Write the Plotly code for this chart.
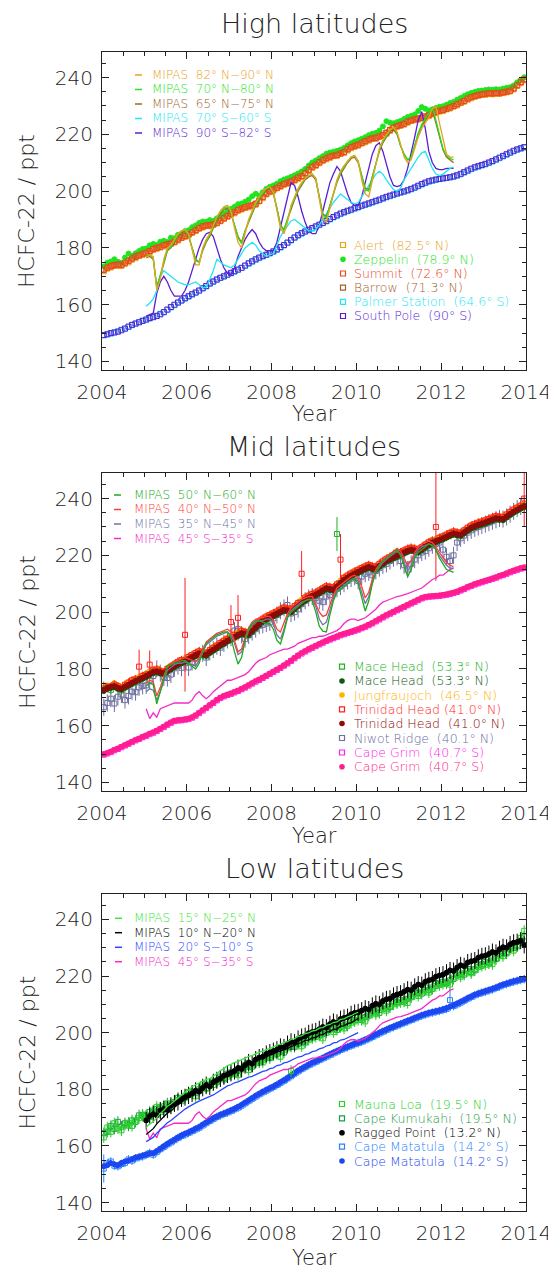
import plotly.graph_objects as go

# The page shows the figure with the browser's default 8 px body margin,
# so the figure is 8 px smaller than the 556x1272 window and every position
# below is given in window pixels and shifted by that margin.
PAGE_W, PAGE_H, BODY_MARGIN = 556, 1272, 8
W, H = PAGE_W - BODY_MARGIN, PAGE_H - BODY_MARGIN
FONT = "DejaVu Sans, sans-serif"
WEIGHT = 200
INK = "#222222"

# ---------------- time axes ----------------
MONTHS = [2004 + (i + 0.5) / 12 for i in range(120)]      # Jan 2004 .. Dec 2013
MIPAS_T = MONTHS[12:100]                                  # Jan 2005 .. Apr 2012
MIPAS_T_TROP = MONTHS[12:73]                              # Jan 2005 .. Jan 2010
RAGGED_T = MONTHS[12:120]                                 # Jan 2005 .. Dec 2013

# ================= HIGH LATITUDES =================
alert = [171.8,172.7,173.1,173.9,173.6,173.7,174.4,174.9,175.9,176.4,177.2,177.6,
         178.1,178.5,179.4,179.7,180.3,180.5,181.0,181.8,181.9,182.6,183.5,183.9,
         184.5,185.6,185.9,186.8,187.2,187.8,187.6,188.4,188.6,189.4,190.2,190.9,
         191.8,192.2,193.1,193.5,194.1,194.3,194.9,195.2,196.4,197.5,198.8,199.6,
         200.1,201.0,201.5,202.3,202.6,203.3,203.7,204.3,205.1,206.0,207.1,208.2,
         208.9,209.8,210.6,211.2,211.7,212.3,212.4,213.1,213.4,214.3,215.1,215.6,
         216.0,216.8,217.2,217.8,218.4,218.4,219.1,219.5,220.2,221.2,222.0,222.7,
         223.0,223.4,224.1,224.7,225.0,225.2,225.7,226.0,226.4,227.0,227.5,228.0,
         228.2,228.8,229.1,229.8,230.2,231.0,231.5,232.2,232.7,233.2,233.5,233.9,
         233.9,234.3,234.1,234.2,234.4,234.5,234.8,235.1,235.8,237.0,238.0,239.0]
zeppelin = [173.5,174.8,175.2,176.0,175.1,174.8,176.6,178.0,177.2,178.1,178.9,179.6,
            179.8,180.9,181.4,181.0,182.2,182.5,182.1,183.6,183.4,184.6,185.0,185.9,
            186.2,187.3,187.9,188.8,189.3,189.2,189.8,189.5,190.4,191.2,192.0,193.1,
            193.7,194.5,195.4,195.6,196.3,197.0,198.2,199.1,198.4,199.6,200.8,201.5,
            202.0,202.6,203.5,204.1,204.5,205.0,205.6,206.2,206.9,207.8,209.0,210.1,
            210.8,211.6,212.3,213.2,213.6,213.9,214.2,214.6,215.2,216.1,216.9,217.5,
            217.9,218.4,219.0,219.7,220.2,220.5,221.3,222.8,224.6,224.1,223.9,224.3,
            224.7,225.4,226.1,226.5,227.0,228.2,229.6,229.0,228.4,228.8,229.3,229.7,
            229.9,230.4,231.0,231.4,232.2,232.8,233.5,234.1,234.6,234.9,235.3,235.4,
            235.6,235.8,235.7,235.9,235.8,236.1,236.4,236.6,237.2,238.3,239.2,240.1]
summit = [172.4,173.1,173.6,174.0,174.2,174.0,174.8,175.5,176.3,177.0,177.4,177.9,
          178.3,178.9,179.6,180.1,180.4,181.0,181.3,181.6,182.2,183.0,183.6,184.2,
          184.8,185.5,186.3,187.0,187.6,187.9,188.0,188.3,188.9,189.6,190.5,191.3,
          192.0,192.6,193.4,193.9,194.3,194.8,195.0,195.6,196.6,198.0,199.2,200.0,
          200.6,201.2,201.9,202.5,203.0,203.4,204.0,204.8,205.3,206.4,207.5,208.6,
          209.3,210.2,211.0,211.6,212.2,212.5,212.8,213.3,213.8,214.8,215.5,216.0,
          216.4,217.0,217.6,218.2,218.6,218.8,219.3,219.8,220.6,221.6,222.4,222.9,
          223.3,223.8,224.5,224.9,225.3,225.6,225.8,226.3,226.8,227.4,227.9,228.3,
          228.6,229.0,229.5,230.0,230.6,231.2,231.8,232.6,233.1,233.5,233.9,234.1,
          234.3,234.5,234.4,234.6,234.5,234.8,235.0,235.4,236.2,237.3,238.4,239.4]
summit_err = 1.2
barrow = [172.2,172.9,173.4,173.7,174.0,173.9,174.5,175.3,176.0,176.8,177.2,177.7,
          178.2,178.8,179.4,179.9,180.2,180.8,181.1,181.5,182.1,182.9,183.5,184.1,
          184.7,185.4,186.1,186.9,187.4,187.7,187.9,188.2,188.8,189.5,190.3,191.1,
          191.9,192.5,193.2,193.8,194.2,194.6,194.9,195.5,196.5,197.8,199.0,199.8,
          200.5,201.1,201.8,202.4,202.9,203.3,203.9,204.6,205.2,206.2,207.4,208.4,
          209.2,210.0,210.9,211.5,212.0,212.4,212.7,213.2,213.7,214.6,215.4,215.9,
          216.3,216.9,217.5,218.1,218.5,218.7,219.2,219.7,220.5,221.5,222.3,222.8,
          223.2,223.7,224.4,224.8,225.2,225.5,225.7,226.2,226.7,227.3,227.8,228.2,
          228.5,228.9,229.4,229.9,230.5,231.1,231.7,232.5,233.0,233.4,233.8,234.0,
          234.2,234.4,234.3,234.5,234.4,234.7,234.9,235.3,236.1,237.2,238.3,239.3]
palmer = [149.2,149.5,149.8,150.3,150.6,151.2,151.5,152.1,152.8,153.2,153.9,154.4,
          154.6,155.1,155.7,156.2,156.8,157.3,158.1,159.0,159.8,160.6,161.4,162.1,
          162.8,163.5,164.2,164.9,165.7,166.4,167.3,168.0,168.7,169.4,169.9,170.5,
          171.0,171.6,172.2,172.9,173.6,174.4,175.1,175.8,176.4,177.0,177.5,178.0,
          178.6,179.3,180.1,180.9,181.7,182.6,183.5,184.3,185.0,185.7,186.2,186.8,
          187.4,188.0,188.7,189.3,190.0,190.7,191.3,191.9,192.4,192.9,193.3,193.8,
          194.2,194.7,195.1,195.5,196.0,196.4,196.8,197.3,197.8,198.2,198.6,199.0,
          199.4,199.8,200.2,200.6,201.1,201.7,202.3,202.8,203.3,203.6,203.9,204.2,
          204.4,204.6,204.8,205.0,205.4,205.9,206.5,207.1,207.7,208.2,208.6,209.0,
          209.4,209.9,210.4,211.0,211.6,212.2,212.8,213.4,214.0,214.5,214.9,215.3]
south_pole = [149.3,149.6,150.0,150.2,150.5,151.0,151.6,152.3,152.9,153.4,153.8,154.3,
              154.8,155.3,155.6,156.0,156.6,157.4,158.3,159.2,160.0,160.8,161.5,162.3,
              163.0,163.7,164.3,165.0,165.8,166.6,167.5,168.2,168.9,169.5,170.0,170.6,
              171.2,171.8,172.4,173.0,173.8,174.6,175.3,176.0,176.6,177.1,177.6,178.2,
              178.8,179.5,180.3,181.0,181.9,182.8,183.7,184.5,185.2,185.8,186.4,187.0,
              187.6,188.2,188.8,189.5,190.2,190.9,191.5,192.1,192.6,193.1,193.5,194.0,
              194.4,194.9,195.3,195.7,196.1,196.6,197.0,197.5,198.0,198.4,198.8,199.2,
              199.6,199.9,200.3,200.8,201.3,201.9,202.5,203.0,203.5,203.8,204.1,204.3,
              204.5,204.7,204.9,205.2,205.6,206.1,206.7,207.3,207.9,208.4,208.8,209.2,
              209.6,210.1,210.6,211.2,211.8,212.4,213.0,213.6,214.2,214.7,215.1,215.5]

mipas_82_90N = [176.5,177.5,177,165,169,176,180,181,183,185,186,186.5,
                185,179,174,174,180,183,185,188,191,193,194.5,195,
                193,187,182,180,185,190,193,196,198,200,201,201.5,
                199.5,193,187,185,189,195,198,201,203,204.5,205.5,206,
                204.5,197,190,189,194,200,204,207,209,210.5,212,212.5,
                210.5,204,199,198,204,210,215,218,220,221.5,222.5,221,
                216,212,210,211,215,219,222,224,226,229,230,224,
                218,213,212,212]
mipas_70_80N = [177,177.5,176.5,166,170.5,175.5,179.5,180.5,182.5,184.5,186,186.2,
                184.5,180,175.5,175,179.5,182.5,184.5,187.5,190.5,192.5,194,194.5,
                192.5,188,183.5,181.5,186,189.5,192.5,195.5,197.5,199.5,201,201.5,
                199.5,194,188,186,190,194.5,197.5,200.5,202.5,204.5,205.5,206,
                204.5,198,191.5,190.5,195,199.5,203.5,206.5,208.5,210.5,212,212.5,
                210.5,205,200.5,200,205,210.5,214.5,217.5,219.5,221.5,222.5,220.5,
                216,213,211,212,216,220.5,223.5,225.5,227.5,229.5,225,220,
                215,212.5,211.5,211]
mipas_65_75N = [176.5,177,176,166.5,170,175,179,180,182,184,185.5,185.8,
                184,180,176,175,179,182,184,187,190,192,193.5,194,
                192,188,184,182,186,189,192,195,197,199,200.5,201,
                199,194,188,186.5,190,194,197,200,202,204,205,205.5,
                204,198,192,191,195,199,203,206,208,210,211.5,212,
                210,205,201,200.6,205,210,214,217,219,221,221.7,220,
                216,213,211,212,216,220,223,225,227,228.7,224,219,
                214.6,212,211,210]
mipas_70_60S = [159.5,160.5,162,165,170,172,171,170,169,168,167.5,167,
                167,167.5,168,167,166,166,169,172,176,175,174,173.5,
                173,174,176,178,180,181,182,181,179,178,177,177.5,
                178,181,184,186,188,189.5,190,189,188,187,186,186,
                186.5,188,190,192,194,196,197.5,199,198,197,196,195.5,
                196,198,200,202,204,206,207,206,204,202,200.5,200,
                201,204,206,208,210,212,213.5,214,211,208,206,205.5,
                206,207,208,208.5]
mipas_90_82S = [156,156.5,157,164,168,170,168,165,163,163,163,165,
                168,172,176,180,183,185,185.5,184,180,176,173,171,
                170.6,173,177,180,183,185,186.5,185,182,180,179,179,
                179,182,187,193,198,203,202,198,193,189,186,185,
                185,188,193,198,203,206,208.7,207,203,199,196,195,
                195,198,203,208,213,216,217,214,209,205,202,201.6,
                202,204,208,213,219,225,228,222,214,210,208,207.6,
                207.6,208,208,208]

# ================= MID LATITUDES =================
mace_sq = [172.8,173.5,172.6,174.0,173.2,172.4,173.5,174.3,175.0,175.6,176.1,176.8,
           177.4,178.2,178.9,179.1,178.6,178.3,179.3,180.1,180.9,181.7,182.2,182.8,
           183.4,184.1,184.9,185.4,185.0,184.8,185.9,186.7,187.5,188.4,189.1,189.9,
           190.5,191.2,192.0,192.6,192.3,192.1,193.4,194.6,195.8,196.9,197.6,198.2,
           198.8,199.4,200.1,200.8,200.5,200.2,201.3,202.4,203.4,204.3,205.0,205.6,
           206.1,206.8,207.6,208.3,208.1,207.9,227.5,210.2,211.3,212.1,212.8,213.5,
           214.1,214.7,215.3,215.8,215.4,215.1,216.2,217.1,218.0,218.6,219.2,219.8,
           220.3,220.9,221.5,221.9,221.6,221.3,222.1,223.0,223.8,224.4,224.9,225.4,
           225.9,226.5,227.1,227.6,227.3,227.1,228.0,228.9,229.7,230.2,230.7,231.1,
           231.5,232.0,232.5,233.0,232.8,232.7,233.6,234.5,235.3,236.0,236.7,237.3]
mace_sq_err = 1.5
mace_sq_big_err = {66: 6.0}
mace_dot = [172.2,173.0,173.3,173.6,173.0,172.7,173.4,174.0,174.7,175.4,176.0,176.5,
            177.1,177.9,178.5,178.8,178.4,178.1,179.0,179.8,180.6,181.4,182.0,182.5,
            183.1,183.8,184.5,185.0,184.8,184.6,185.6,186.4,187.2,188.1,188.8,189.6,
            190.2,190.9,191.6,192.2,192.0,191.9,193.1,194.3,195.5,196.5,197.3,197.9,
            198.5,199.1,199.8,200.4,200.2,199.9,201.0,202.1,203.1,204.0,204.7,205.3,
            205.8,206.5,207.3,208.0,207.8,207.6,208.7,209.9,211.0,211.8,212.5,213.2,
            213.8,214.4,215.0,215.5,215.1,214.8,215.9,216.8,217.7,218.3,218.9,219.5,
            220.0,220.6,221.2,221.6,221.3,221.0,221.8,222.7,223.5,224.1,224.6,225.1,
            225.6,226.2,226.8,227.3,227.0,226.8,227.7,228.6,229.4,229.9,230.4,230.8,
            231.2,231.7,232.2,232.7,232.5,232.4,233.3,234.2,235.0,235.7,236.4,237.0]
jungfraujoch = [173.5,174.2,174.0,175.0,174.3,173.8,174.6,175.4,176.0,176.8,177.2,177.9,
                178.4,179.3,179.8,180.2,179.7,179.3,180.4,181.2,182.0,182.6,183.3,183.8,
                184.5,185.1,185.9,186.4,186.1,185.9,186.9,187.8,188.6,189.4,190.2,191.0,
                191.5,192.3,193.0,193.7,193.3,193.2,194.4,195.6,196.8,197.8,198.6,199.2,
                199.9,200.4,201.2,201.8,201.5,201.3,202.3,203.5,204.4,205.3,206.0,206.6,
                207.1,207.9,208.6,209.3,209.1,208.9,210.0,211.2,212.3,213.1,213.9,214.5,
                215.1,215.7,216.3,216.9,216.4,216.1,217.2,218.1,219.0,219.6,220.2,220.8,
                221.3,221.9,222.5,222.9,222.6,222.3,223.1,224.0,224.8,225.4,225.9,226.4,
                226.9,227.5,228.1,228.6,228.3,228.1,229.0,229.9,230.7,231.2,231.7,232.1,
                232.5,233.0,233.5,234.0,233.8,233.7,234.6,235.5,236.3,237.0,237.7,238.3]
trinidad_sq = [174.0,173.2,173.8,174.5,173.9,173.0,174.4,175.2,176.0,176.3,180.8,177.5,
               178.0,181.5,179.4,179.8,179.2,178.8,180.0,180.8,181.6,182.5,183.1,192.0,
               184.2,184.9,185.6,186.2,185.8,185.5,186.6,187.4,188.2,189.1,189.9,190.6,
               196.5,192.0,198.0,193.4,193.0,192.8,194.1,195.3,196.6,197.7,198.4,199.0,
               199.6,200.2,200.9,201.6,201.3,201.0,202.1,203.2,213.5,205.1,205.8,206.4,
               206.9,207.6,208.4,209.1,208.9,208.7,209.8,218.5,212.1,212.9,213.6,214.3,
               214.9,215.5,216.1,216.6,216.2,215.9,217.0,217.9,218.8,219.4,220.0,220.6,
               221.1,221.7,222.3,222.7,222.4,222.1,222.9,223.8,224.6,225.2,230.0,226.2,
               226.7,227.3,227.9,228.4,228.1,227.9,228.8,229.7,230.5,231.0,231.5,231.9,
               232.3,232.8,233.3,233.8,233.6,233.5,234.4,235.3,236.1,236.8,237.5,240.0]
trinidad_sq_err = 1.5
trinidad_sq_big_err = {10: 6.0, 13: 5.0, 23: 20.0, 36: 6.0, 38: 8.0, 56: 8.0, 67: 9.0, 94: 19.0, 119: 10.0}
trinidad_dot = [172.6,173.3,173.7,173.9,173.4,173.0,173.8,174.4,175.1,175.7,176.4,176.9,
                177.5,178.2,178.9,179.1,178.8,178.5,179.4,180.2,181.0,181.8,182.4,182.9,
                183.5,184.2,184.9,185.4,185.2,185.0,186.0,186.8,187.6,188.5,189.2,190.0,
                190.6,191.3,192.0,192.6,192.4,192.3,193.5,194.7,195.9,196.9,197.7,198.3,
                198.9,199.5,200.2,200.8,200.6,200.3,201.4,202.5,203.5,204.4,205.1,205.7,
                206.2,206.9,207.7,208.4,208.2,208.0,209.1,210.3,211.4,212.2,212.9,213.6,
                214.2,214.8,215.4,215.9,215.5,215.2,216.3,217.2,218.1,218.7,219.3,219.9,
                220.4,221.0,221.6,222.0,221.7,221.4,222.2,223.1,223.9,224.5,225.0,225.5,
                226.0,226.6,227.2,227.7,227.4,227.2,228.1,229.0,229.8,230.3,230.8,231.2,
                231.6,232.1,232.6,233.1,232.9,232.8,233.7,234.6,235.4,236.1,236.8,237.4]
niwot = [166.5,168.0,169.5,167.8,170.2,171.0,169.0,170.5,172.0,171.8,173.5,174.0,
         174.2,176.0,177.5,180.0,178.5,177.0,176.8,178.0,180.2,181.0,180.4,182.0,
         180.5,182.4,183.6,184.8,185.5,184.0,186.0,186.8,188.0,187.5,189.0,190.2,
         191.0,193.5,194.0,192.0,190.5,191.8,193.0,194.0,195.2,195.5,196.0,196.4,
         197.8,199.0,200.5,201.5,202.5,199.5,200.0,201.0,202.8,204.0,205.0,205.5,
         205.0,204.0,203.5,205.5,206.0,207.0,208.2,209.0,210.0,211.0,211.8,212.5,
         211.0,212.5,213.5,214.0,213.0,214.5,215.5,216.5,217.0,218.0,219.0,219.5,
         218.0,216.5,215.0,217.0,218.5,220.0,221.0,221.5,222.5,223.5,224.0,224.5,
         222.0,219.5,218.0,220.0,224.5,226.0,227.0,228.0,228.8,229.5,230.0,230.5,
         231.0,231.5,232.0,232.5,233.0,232.8,233.5,234.5,235.5,236.5,237.2,238.0]
niwot_err = 3.0
cape_grim_sq = [149.8,150.2,150.7,151.3,151.8,152.4,153.0,153.6,154.2,154.8,155.3,155.9,
                156.4,157.0,157.5,158.1,158.8,159.5,160.3,161.0,161.6,161.8,161.9,162.1,
                162.3,162.8,163.5,164.4,165.3,166.2,167.1,168.0,168.9,169.7,170.3,170.8,
                171.2,171.7,172.2,172.8,173.4,174.1,174.8,175.5,176.1,176.8,177.5,178.2,
                178.9,179.6,180.3,181.1,181.9,182.8,183.7,184.6,185.4,186.1,186.8,187.4,
                188.0,188.6,189.2,189.8,190.3,190.8,191.3,191.8,192.2,192.6,193.0,193.4,
                193.8,194.3,194.8,195.4,196.0,196.7,197.4,198.1,198.8,199.4,200.0,200.6,
                201.2,201.8,202.4,203.0,203.6,204.2,204.8,205.2,205.4,205.5,205.6,205.7,
                205.9,206.1,206.4,206.7,207.1,207.6,208.1,208.7,209.2,209.7,210.1,210.5,
                210.9,211.3,211.7,212.1,212.6,213.0,213.5,214.0,214.5,214.9,215.3,215.6]
cape_grim_dot = [150.0,150.4,150.9,151.5,152.0,152.6,153.2,153.8,154.4,155.0,155.5,156.1,
                 156.6,157.2,157.7,158.3,159.0,159.7,160.5,161.2,161.8,162.0,162.1,162.3,
                 162.5,163.0,163.7,164.6,165.5,166.4,167.3,168.2,169.1,169.9,170.5,171.0,
                 171.4,171.9,172.4,173.0,173.6,174.3,175.0,175.7,176.3,177.0,177.7,178.4,
                 179.1,179.8,180.5,181.3,182.1,183.0,183.9,184.8,185.6,186.3,187.0,187.6,
                 188.2,188.8,189.4,190.0,190.5,191.0,191.5,192.0,192.4,192.8,193.2,193.6,
                 194.0,194.5,195.0,195.6,196.2,196.9,197.6,198.3,199.0,199.6,200.2,200.8,
                 201.4,202.0,202.6,203.2,203.8,204.4,205.0,205.4,205.6,205.7,205.8,205.9,
                 206.1,206.3,206.6,206.9,207.3,207.8,208.3,208.9,209.4,209.9,210.3,210.7,
                 211.1,211.5,211.9,212.3,212.8,213.2,213.7,214.2,214.7,215.1,215.5,215.8]

mipas_50_60N = [174,175,174.5,167.7,172,177,181,181.5,182,182.5,182.8,183,
                182,181,180,182,186,189,190,191,192,192.5,193,193,
                191,186,181.7,184,190,194,196,197,197,196.5,196,196,
                194,190,188.8,193,198,200,201,202,203,204,204.5,204,
                200,195,193.3,193,199,204,207,208,209,210,211,212,
                210,205,200.4,204,210,214,216.5,218,219,220,221,222,
                220,216,212.5,215,219,221,222,223,224,223.5,222,219,
                217,215,214.5,214]
mipas_40_50N = [175,176,175.5,170.5,173.5,177.5,180.5,181.5,182.5,183,183.5,184,
                183.5,183,182.5,184,187,189.5,190.5,191.5,192.5,193,193.5,194,
                193,190,186,187,191,194.5,196.5,197.5,198,198,198.5,198.5,
                197,194,193,196,199.5,201.5,202.5,203.5,204.5,205,205.5,205.5,
                203,200,198.5,199,202.5,206,208.5,209.5,210.5,211.5,212.5,213,
                212,209,205,207,211.5,215,217,218.5,219.5,220.5,221.5,222.5,
                221.5,219,216.5,218,221,223,224,224.5,225,224.5,223,221,
                219,217.5,216.5,216]
mipas_35_45N = [172,173,172.5,169,172,176,179.5,180.5,181.5,182,182,182.5,
                182,181.5,181,183,186,188.5,189.5,190.5,191.5,192,192.5,193,
                192,189,185,186,190,193.5,195.5,196.5,197,197,197.5,197.5,
                196,192,190.5,194,198.5,200.5,201.5,202.5,203.5,204,204.5,204.5,
                202,197.5,195.5,196.5,201,205,207.5,208.5,209.5,210.5,211.5,212,
                211,207,203,205.5,210.5,214,216,217.5,218.5,219.5,220.5,221.5,
                220.5,217.5,214.5,216.5,220,222,223,223.5,224,223.5,222,220,
                218,216.5,215.5,215.5]
mipas_45_35S = [166,162.5,164.5,163,166,166.5,167,167.5,168,168,168,168,
                168,169,171,172,170.5,169.5,170.5,172,173,174,175,176,
                176,176.5,177,177.5,178,179,180.5,182,183,183.5,184,185,
                185.5,186,186.5,187,187,187.5,188,189,189.5,190,190.5,191,
                191,191.5,191.5,192,192.5,193,193.5,194.5,196,197,197.5,197.5,
                197,197.5,198,199,200,201,202.5,203.5,204,204.5,205,205.5,
                205.7,206,206.5,207,207.5,208,208.5,209.5,210.5,211.5,212,213,
                213,214,215,215.5]

# ================= LOW LATITUDES =================
mauna_loa = [163.0,166.5,165.0,168.0,166.2,165.5,167.5,168.2,167.0,169.0,169.8,170.5,
             171.0,170.2,172.5,173.8,172.0,174.0,174.6,173.5,175.5,176.2,175.8,177.5,
             178.0,179.2,177.5,180.0,181.0,180.2,182.0,181.5,183.0,183.8,184.0,184.5,
             185.2,186.0,185.0,187.5,188.0,186.8,188.5,189.2,190.0,189.5,191.0,191.5,
             192.0,193.0,191.5,194.0,194.5,186.5,195.5,196.0,195.2,197.0,197.5,198.0,
             198.5,199.5,198.0,200.5,201.0,200.2,201.8,202.0,201.5,203.0,203.5,204.0,
             204.5,205.2,204.0,206.5,207.0,206.5,208.0,208.5,207.8,209.5,210.0,210.3,
             210.8,211.5,210.5,213.0,213.5,213.0,214.5,215.0,214.2,216.0,216.5,216.8,
             217.2,218.0,217.0,219.5,220.2,219.8,221.0,221.8,221.0,222.5,223.2,223.6,
             224.0,225.0,224.2,226.5,227.2,227.0,228.5,229.5,229.0,231.0,233.5,236.0]
mauna_loa_err = 2.0
kumukahi = [164.5,165.0,167.0,166.0,168.5,166.8,168.0,167.2,169.0,168.5,170.8,171.0,
            170.5,172.0,171.5,173.0,173.5,172.8,175.0,174.5,175.0,177.0,176.5,177.0,
            179.0,178.5,178.8,179.5,181.8,180.5,181.5,182.8,182.5,184.5,183.5,185.5,
            186.0,185.5,186.5,187.0,188.5,188.0,188.0,190.0,189.5,190.5,191.5,191.0,
            193.0,192.5,193.5,193.0,195.0,195.0,195.0,196.5,196.5,196.5,198.5,198.5,
            199.5,199.0,199.5,200.0,202.0,201.5,201.0,203.0,202.5,202.5,204.5,204.5,
            205.5,204.5,205.5,206.0,208.0,207.5,207.0,209.5,208.5,209.0,211.0,210.8,
            211.5,211.0,212.0,212.5,214.5,214.0,213.8,216.0,215.0,215.5,217.5,217.3,
            218.0,217.5,218.5,219.0,221.0,220.5,220.5,222.5,221.5,222.0,224.0,224.2,
            225.0,224.5,225.5,226.0,228.0,228.0,228.0,230.5,230.0,230.5,232.5,234.0]
kumukahi_err = 2.0
ragged_point = [169.0,170.5,171.2,170.8,172.5,173.0,172.8,174.2,175.0,175.5,176.8,177.2,
                177.8,178.5,179.5,179.2,180.5,181.5,181.0,182.5,183.2,183.8,184.8,185.2,
                185.8,186.5,187.5,187.2,188.5,189.5,189.0,190.5,191.2,191.5,192.5,193.0,
                193.5,194.0,195.0,194.8,196.0,196.8,196.5,197.8,198.5,198.8,199.8,200.2,
                200.5,201.2,202.0,201.8,203.0,203.8,203.5,204.8,205.2,205.5,206.5,207.0,
                207.2,207.8,208.5,208.2,209.5,210.2,210.0,211.2,211.8,212.0,213.0,213.5,
                213.8,214.5,215.2,215.0,216.2,217.0,216.8,218.0,218.5,218.8,219.8,220.2,
                220.5,221.2,222.0,221.8,223.0,223.8,223.5,224.8,225.2,225.5,226.5,227.0,
                227.2,227.8,228.5,228.2,229.5,230.2,230.0,231.2,231.8,232.0,232.5,231.0]
ragged_err = 3.0
matatula_sq = [152.0,153.8,154.5,153.0,152.8,153.6,154.0,155.2,154.8,155.6,156.0,156.3,
               156.8,157.5,156.9,157.8,158.8,159.6,160.5,161.2,162.0,162.8,163.5,164.0,
               164.6,165.2,165.8,166.4,167.2,168.0,168.8,169.5,170.2,170.8,171.3,171.8,
               172.3,172.9,173.5,174.2,175.0,175.8,176.6,177.4,178.2,178.9,179.5,180.2,
               180.8,181.5,182.2,183.0,183.8,184.6,185.5,186.3,187.1,187.8,188.5,189.1,
               189.7,190.3,190.9,191.5,192.1,192.7,193.3,193.9,194.4,194.9,195.4,195.9,
               196.3,196.8,197.3,197.9,198.5,199.1,199.7,200.3,200.9,201.5,202.0,202.5,
               203.0,203.5,204.0,204.5,205.0,205.5,206.0,206.4,206.8,207.1,207.4,207.7,
               208.0,208.4,211.5,209.4,210.0,210.6,211.3,212.0,212.6,213.2,213.7,214.1,
               214.5,214.9,215.3,215.8,216.3,216.8,217.2,217.6,218.0,218.3,218.6,218.9]
matatula_sq_err = 1.5
matatula_sq_big_err = {0: 5.0, 98: 4.0}
matatula_dot = [152.8,153.2,153.9,153.5,153.2,154.0,154.5,154.8,155.3,155.9,156.2,156.6,
                157.0,157.3,157.4,158.2,159.0,159.9,160.7,161.5,162.2,163.0,163.7,164.3,
                164.8,165.4,166.1,166.7,167.5,168.3,169.0,169.8,170.4,171.0,171.5,172.0,
                172.6,173.1,173.8,174.5,175.3,176.1,176.9,177.7,178.4,179.1,179.8,180.4,
                181.0,181.7,182.5,183.2,184.0,184.9,185.7,186.6,187.3,188.0,188.7,189.4,
                189.9,190.5,191.1,191.8,192.4,193.0,193.5,194.1,194.6,195.1,195.6,196.1,
                196.5,197.0,197.6,198.1,198.7,199.4,200.0,200.6,201.1,201.7,202.2,202.7,
                203.2,203.7,204.2,204.7,205.2,205.7,206.2,206.6,207.0,207.3,207.6,207.9,
                208.3,208.7,209.2,209.7,210.3,210.9,211.5,212.2,212.8,213.4,213.9,214.3,
                214.7,215.1,215.5,216.0,216.5,217.0,217.4,217.8,218.2,218.5,218.8,219.1]
matatula_dot_err = 1.0

mipas_15_25N = [166.5,167.8,168.5,170.2,171.5,172.6,174.0,174.8,175.9,177.0,177.8,179.0,
                179.8,180.9,181.6,182.3,182.8,183.5,183.8,184.6,185.5,186.6,187.3,188.4,
                188.8,189.5,189.8,190.5,190.9,191.6,191.9,192.6,193.1,193.6,193.9,194.6,
                194.9,195.7,195.9,196.6,196.8,197.6,197.9,198.7,198.9,199.7,199.9,200.6,
                200.8,201.6,201.8,202.6,202.9,203.6,203.8,204.7,204.9,205.6,206.0,206.7,
                207.2]
mipas_10_20N = [164.0,165.2,166.1,167.8,169.0,170.3,171.6,172.3,173.4,174.8,175.3,176.6,
                177.4,178.6,179.2,180.1,180.4,181.2,181.3,182.2,183.1,184.2,184.8,186.1,
                186.4,187.2,187.3,188.1,188.4,189.2,189.4,190.1,190.6,191.2,191.3,192.2,
                192.4,193.3,193.4,194.2,194.3,195.2,195.4,196.3,196.4,197.3,197.4,198.2,
                198.3,199.2,199.3,200.2,200.4,201.2,201.3,202.3,202.4,203.2,203.5,204.3,
                205.0]
mipas_20_10S = [161.5,162.2,163.0,164.5,165.8,167.0,168.2,169.0,170.0,171.2,172.0,173.0,
                173.8,174.6,175.2,175.8,176.3,177.0,177.4,178.0,178.8,179.6,180.3,181.2,
                181.6,182.3,182.6,183.2,183.6,184.3,184.6,185.2,185.7,186.3,186.6,187.3,
                187.6,188.4,188.6,189.3,189.6,190.3,190.7,191.4,191.6,192.3,192.6,193.3,
                193.6,194.3,194.6,195.3,195.6,196.4,196.6,197.4,197.6,198.3,198.7,199.4,
                200.0]

# ---------------- colours ----------------
C_ALERT, C_ZEPP, C_SUMMIT, C_BARROW = "#E8A31C", "#1EE61E", "#E8481C", "#A0642D"
C_PALMER, C_SPOLE = "#1EE6F5", "#5A1ED2"
C_MACE, C_MACE_D, C_JUNG = "#20B020", "#0F5A0F", "#FFB400"
C_TRIN, C_TRIN_D, C_NIWOT = "#FF1E1E", "#8C0A0A", "#6E6EA0"
C_GRIM, C_GRIM_D, C_MIPAS_SH = "#FF1EF0", "#FF1E8C", "#F528C8"
C_M5060, C_M4050, C_M3545 = "#1EAA1E", "#FF3C3C", "#7373A5"
C_ML, C_KUM, C_M1525 = "#22D022", "#1E9B46", "#3CE63C"
C_MAT_SQ, C_MAT_D, C_M2010 = "#2882FF", "#1E46F0", "#2846FF"

# ---------------- layout geometry (window pixels) ----------------
X_LEFT, X_RIGHT = 102, 526
PANELS = [(52, 370), (473, 791), (894, 1211)]
YRANGE = [137, 249]


def px(x):
    return (x - BODY_MARGIN) / W


def py(y):
    return 1 - (y - BODY_MARGIN) / H


def err_list(n, base, big):
    return [big.get(i, base) for i in range(n)]


fig = go.Figure()


def add_points(ax, x, y, color, symbol, name, err=None, size=5):
    kw = {}
    if err is not None:
        arr = err if isinstance(err, list) else [err] * len(y)
        kw["error_y"] = dict(type="data", array=arr, visible=True, thickness=1,
                             width=0, color=color)
    fig.add_trace(go.Scatter(
        x=x[:len(y)], y=y, mode="markers", name=name, showlegend=False,
        xaxis="x" + ax, yaxis="y" + ax,
        marker=dict(symbol=symbol, size=size, color=color,
                    line=dict(width=1, color=color)), **kw))


def add_line(ax, x, y, color, name):
    fig.add_trace(go.Scatter(
        x=x[:len(y)], y=y, mode="lines", name=name, showlegend=False,
        xaxis="x" + ax, yaxis="y" + ax, line=dict(color=color, width=1.3)))


# panel 1
add_points("", MONTHS, palmer, C_PALMER, "square-open", "Palmer Station")
add_points("", MONTHS, south_pole, C_SPOLE, "square-open", "South Pole")
add_points("", MONTHS, barrow, C_BARROW, "square-open", "Barrow")
add_points("", MONTHS, alert, C_ALERT, "square-open", "Alert")
add_points("", MONTHS, zeppelin, C_ZEPP, "circle", "Zeppelin")
add_points("", MONTHS, summit, C_SUMMIT, "square-open", "Summit", err=summit_err)
add_line("", MIPAS_T, mipas_90_82S, C_SPOLE, "MIPAS 90S-82S")
add_line("", MIPAS_T, mipas_70_60S, C_PALMER, "MIPAS 70S-60S")
add_line("", MIPAS_T, mipas_65_75N, C_BARROW, "MIPAS 65N-75N")
add_line("", MIPAS_T, mipas_70_80N, C_ZEPP, "MIPAS 70N-80N")
add_line("", MIPAS_T, mipas_82_90N, C_ALERT, "MIPAS 82N-90N")

# panel 2
add_points("2", MONTHS, cape_grim_sq, C_GRIM, "square-open", "Cape Grim", err=0.8)
add_points("2", MONTHS, cape_grim_dot, C_GRIM_D, "circle", "Cape Grim (flask)")
add_points("2", MONTHS, niwot, C_NIWOT, "square-open", "Niwot Ridge", err=niwot_err)
add_points("2", MONTHS, jungfraujoch, C_JUNG, "circle", "Jungfraujoch")
add_points("2", MONTHS, mace_sq, C_MACE, "square-open", "Mace Head",
           err=err_list(len(mace_sq), mace_sq_err, mace_sq_big_err))
add_points("2", MONTHS, trinidad_sq, C_TRIN, "square-open", "Trinidad Head",
           err=err_list(len(trinidad_sq), trinidad_sq_err, trinidad_sq_big_err))
add_points("2", MONTHS, mace_dot, C_MACE_D, "circle", "Mace Head (flask)", err=1.0)
add_points("2", MONTHS, trinidad_dot, C_TRIN_D, "circle", "Trinidad Head (flask)", err=1.0)
add_line("2", MIPAS_T, mipas_45_35S, C_MIPAS_SH, "MIPAS 45S-35S")
add_line("2", MIPAS_T, mipas_35_45N, C_M3545, "MIPAS 35N-45N")
add_line("2", MIPAS_T, mipas_40_50N, C_M4050, "MIPAS 40N-50N")
add_line("2", MIPAS_T, mipas_50_60N, C_M5060, "MIPAS 50N-60N")

# panel 3
add_points("3", MONTHS, matatula_sq, C_MAT_SQ, "square-open", "Cape Matatula",
           err=err_list(len(matatula_sq), matatula_sq_err, matatula_sq_big_err))
add_points("3", MONTHS, matatula_dot, C_MAT_D, "circle", "Cape Matatula (flask)",
           err=matatula_dot_err)
add_points("3", MONTHS, kumukahi, C_KUM, "square-open", "Cape Kumukahi", err=kumukahi_err)
add_points("3", MONTHS, mauna_loa, C_ML, "square-open", "Mauna Loa", err=mauna_loa_err)
add_points("3", RAGGED_T, ragged_point, "#000000", "circle", "Ragged Point", err=ragged_err)
add_line("3", MIPAS_T, mipas_45_35S, C_MIPAS_SH, "MIPAS 45S-35S")
add_line("3", MIPAS_T_TROP, mipas_20_10S, C_M2010, "MIPAS 20S-10S")
add_line("3", MIPAS_T_TROP, mipas_10_20N, "#000000", "MIPAS 10N-20N")
add_line("3", MIPAS_T_TROP, mipas_15_25N, C_M1525, "MIPAS 15N-25N")

# ---------------- axes ----------------
tickfont = dict(family=FONT, size=20, color=INK, weight=WEIGHT)
common = dict(showline=True, linecolor=INK, linewidth=1, mirror="allticks",
              ticks="inside", ticklen=7, tickwidth=1, tickcolor=INK, automargin=False,
              showgrid=False, zeroline=False, tickfont=tickfont, ticklabelstandoff=4,
              ticklabeloverflow="allow")
layout_axes = {}
for i, (top, bot) in enumerate(PANELS):
    sfx = "" if i == 0 else str(i + 1)
    layout_axes["xaxis" + sfx] = dict(
        common, domain=[px(X_LEFT), px(X_RIGHT)], range=[2004, 2014],
        tickvals=[2004, 2006, 2008, 2010, 2012, 2014],
        ticktext=["2004", "2006", "2008", "2010", "2012", "2014"],
        minor=dict(tick0=2004, dtick=0.5, ticks="inside", ticklen=4, tickcolor=INK),
        anchor="y" + sfx)
    layout_axes["yaxis" + sfx] = dict(
        common, domain=[py(bot), py(top)], range=YRANGE,
        tick0=0, dtick=20,
        minor=dict(tick0=0, dtick=5, ticks="inside", ticklen=4, tickcolor=INK),
        anchor="x" + sfx)

# ---------------- text ----------------
annotations, shapes = [], []


def ann(x, y, text, size, color=INK, xanchor="center", angle=0):
    annotations.append(dict(x=px(x), y=py(y), xref="paper", yref="paper", text=text,
                            showarrow=False, xanchor=xanchor, yanchor="middle",
                            textangle=angle,
                            font=dict(family=FONT, size=size, color=color, weight=WEIGHT)))


titles = ["High latitudes", "Mid latitudes", "Low latitudes"]
title_y = [24, 446, 868]
year_y = [414, 836, 1258]
for i, (top, bot) in enumerate(PANELS):
    ann(314, title_y[i], titles[i], 27)
    ann(314, year_y[i], "Year", 21)
    ann(27, (top + bot) / 2, "HCFC-22 / ppt", 22, angle=-90)


def line_legend(x_dash, x_text, rows):
    for y, text, color in rows:
        shapes.append(dict(type="line", xref="paper", yref="paper",
                           x0=px(x_dash), x1=px(x_dash + 7), y0=py(y), y1=py(y),
                           line=dict(color=color, width=1.5)))
        ann(x_text, y, text, 12, color, xanchor="left")


def marker_legend(x_sym, x_text, rows):
    for y, text, color, kind in rows:
        if kind == "sq":
            shapes.append(dict(type="rect", xref="paper", yref="paper",
                               x0=px(x_sym - 2.5), x1=px(x_sym + 2.5),
                               y0=py(y + 2.5), y1=py(y - 2.5),
                               line=dict(color=color, width=1.2), fillcolor="rgba(0,0,0,0)"))
        else:
            shapes.append(dict(type="circle", xref="paper", yref="paper",
                               x0=px(x_sym - 2.8), x1=px(x_sym + 2.8),
                               y0=py(y + 2.8), y1=py(y - 2.8),
                               line=dict(color=color, width=0), fillcolor=color))
        ann(x_text, y, text, 12.5, color, xanchor="left")


line_legend(135, 150, [
    (75, "MIPAS  82° N−90° N", C_ALERT),
    (89.5, "MIPAS  70° N−80° N", C_ZEPP),
    (104, "MIPAS  65° N−75° N", C_BARROW),
    (118.5, "MIPAS  70° S−60° S", C_PALMER),
    (133, "MIPAS  90° S−82° S", C_SPOLE),
])
marker_legend(343, 352, [
    (245, "Alert  (82.5° N)", C_ALERT, "sq"),
    (259.3, "Zeppelin  (78.9° N)", C_ZEPP, "dot"),
    (273.5, "Summit  (72.6° N)", C_SUMMIT, "sq"),
    (287.7, "Barrow  (71.3° N)", C_BARROW, "sq"),
    (301.8, "Palmer Station  (64.6° S)", C_PALMER, "sq"),
    (316, "South Pole  (90° S)", C_SPOLE, "sq"),
])
line_legend(114, 132, [
    (495, "MIPAS  50° N−60° N", C_M5060),
    (509.5, "MIPAS  40° N−50° N", C_M4050),
    (524, "MIPAS  35° N−45° N", C_M3545),
    (538.5, "MIPAS  45° S−35° S", C_MIPAS_SH),
])
marker_legend(342, 352, [
    (666.7, "Mace Head  (53.3° N)", C_MACE, "sq"),
    (681, "Mace Head  (53.3° N)", C_MACE_D, "dot"),
    (695, "Jungfraujoch  (46.5° N)", C_JUNG, "dot"),
    (709.3, "Trinidad Head (41.0° N)", C_TRIN, "sq"),
    (723.5, "Trinidad Head  (41.0° N)", C_TRIN_D, "dot"),
    (738, "Niwot Ridge  (40.1° N)", C_NIWOT, "sq"),
    (752.5, "Cape Grim  (40.7° S)", C_GRIM, "sq"),
    (766.7, "Cape Grim  (40.7° S)", C_GRIM_D, "dot"),
])
line_legend(115, 132, [
    (918.3, "MIPAS  15° N−25° N", C_M1525),
    (932.7, "MIPAS  10° N−20° N", "#000000"),
    (947.3, "MIPAS  20° S−10° S", C_M2010),
    (961.7, "MIPAS  45° S−35° S", C_MIPAS_SH),
])
marker_legend(342, 352, [
    (1104, "Mauna Loa  (19.5° N)", C_ML, "sq"),
    (1118.3, "Cape Kumukahi  (19.5° N)", C_KUM, "sq"),
    (1132.7, "Ragged Point  (13.2° N)", "#000000", "dot"),
    (1146.7, "Cape Matatula  (14.2° S)", C_MAT_SQ, "sq"),
    (1161, "Cape Matatula  (14.2° S)", C_MAT_D, "dot"),
])

fig.update_layout(
    width=W, height=H, margin=dict(l=0, r=0, t=0, b=0, autoexpand=False),
    paper_bgcolor="white", plot_bgcolor="white", showlegend=False,
    font=dict(family=FONT, color=INK),
    annotations=annotations, shapes=shapes, **layout_axes)

fig.write_html("out.html")
